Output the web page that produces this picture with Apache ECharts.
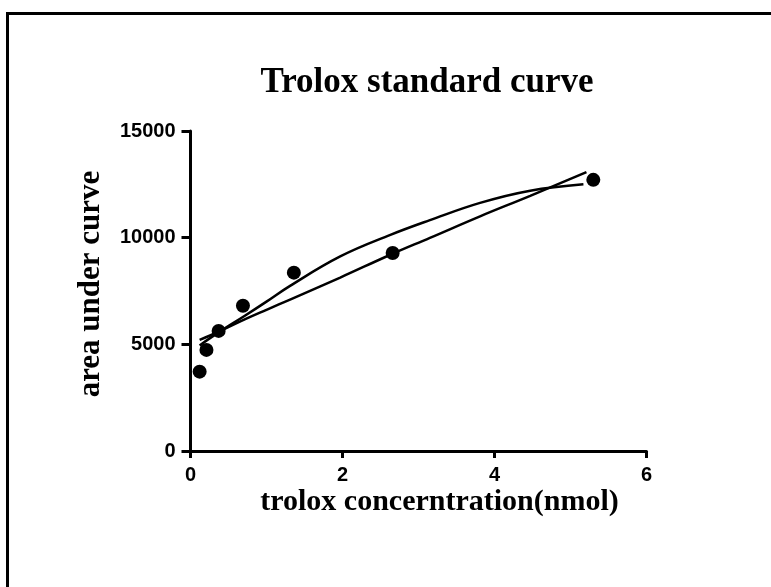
<!DOCTYPE html>
<html>
<head>
<meta charset="utf-8">
<script src="https://cdn.jsdelivr.net/npm/echarts@6/dist/echarts.min.js"></script>
<style>
  html, body { margin: 0; padding: 0; background: #ffffff; }
  #frame { position: absolute; left: 6px; top: 12px; width: 765px; height: 575px;
           border-top: 3px solid #000; border-left: 3px solid #000; box-sizing: border-box; }
  #chart { position: absolute; left: 0; top: 0; width: 771px; height: 587px; }
</style>
</head>
<body>
<div id="frame"></div>
<div id="chart"></div>
<script>
// Measured data points (trolox concentration, area under curve)
const pointX = [0.12, 0.21, 0.37, 0.69, 1.36, 2.66, 5.30];
const pointY = [3720, 4740, 5630, 6810, 8360, 9280, 12710];

// Fitted curve 1 (curved fit, higher in the middle)
const curveAX = [0.12, 0.37, 0.72, 1.00, 1.31, 1.97, 2.63, 3.15, 3.81, 4.47, 5.17];
const curveAY = [4950, 5560, 6350, 7000, 7740, 9120, 10130, 10820, 11630, 12200, 12500];

// Fitted curve 2 (nearly straight fit)
const curveBX = [0.12, 0.37, 0.72, 1.00, 1.31, 1.97, 2.63, 3.15, 3.81, 4.47, 5.21];
const curveBY = [5210, 5590, 6180, 6620, 7100, 8130, 9200, 9990, 11000, 11960, 13070];

const xTicks = { min: 0, max: 6, interval: 2 };
const yTicks = { min: 0, max: 15000, interval: 5000 };

const xTitle = 'trolox concerntration(nmol)';
const yTitle = 'area under curve';
const chartTitle = 'Trolox standard curve';

const zip = (xs, ys) => xs.map((x, i) => [x, ys[i]]);

const chart = echarts.init(document.getElementById('chart'), null, { renderer: 'canvas' });

const axisCommon = {
  axisLine: { show: true, onZero: false, lineStyle: { color: '#000', width: 3 } },
  axisTick: { show: true, inside: false, lineStyle: { color: '#000', width: 3 } },
  splitLine: { show: false },
  axisLabel: { color: '#000', fontFamily: 'Liberation Sans', fontWeight: 'bold', fontSize: 20,
               formatter: v => String(v) },
  nameLocation: 'middle',
  nameMoveOverlap: false,
  nameTextStyle: { color: '#000', fontFamily: 'Liberation Serif', fontWeight: 'bold', fontSize: 30 }
};

chart.setOption({
  backgroundColor: 'transparent',
  animation: false,
  title: {
    text: chartTitle,
    left: 422, top: 60, textAlign: 'center',
    textStyle: { color: '#000', fontFamily: 'Liberation Serif', fontWeight: 'bold', fontSize: 35 }
  },
  grid: { left: 190.5, top: 131, width: 456, height: 320, containLabel: false },
  xAxis: Object.assign({}, axisCommon, {
    type: 'value', min: xTicks.min, max: xTicks.max, interval: xTicks.interval,
    axisTick: Object.assign({}, axisCommon.axisTick, { length: 7 }),
    axisLabel: Object.assign({}, axisCommon.axisLabel, { margin: 14 }),
    name: xTitle, nameGap: 36,
    nameTextStyle: Object.assign({}, axisCommon.nameTextStyle, { padding: [0, 0, 0, 42] })
  }),
  yAxis: Object.assign({}, axisCommon, {
    type: 'value', min: yTicks.min, max: yTicks.max, interval: yTicks.interval,
    axisTick: Object.assign({}, axisCommon.axisTick, { length: 9 }),
    axisLabel: Object.assign({}, axisCommon.axisLabel, { margin: 15 }),
    name: yTitle, nameGap: 84,
    nameTextStyle: Object.assign({}, axisCommon.nameTextStyle, { fontSize: 31, padding: [0, 0, 0, 14] })
  }),
  series: [
    {
      type: 'line', data: zip(curveAX, curveAY), smooth: 0.4, showSymbol: false, symbol: 'none',
      lineStyle: { color: '#000', width: 2.5 }, z: 2
    },
    {
      type: 'line', data: zip(curveBX, curveBY), smooth: 0.4, showSymbol: false, symbol: 'none',
      lineStyle: { color: '#000', width: 2.5 }, z: 2
    },
    {
      type: 'scatter', data: zip(pointX, pointY), symbol: 'circle', symbolSize: 14,
      itemStyle: { color: '#000', opacity: 1 }, z: 3
    }
  ]
});
</script>
</body>
</html>
